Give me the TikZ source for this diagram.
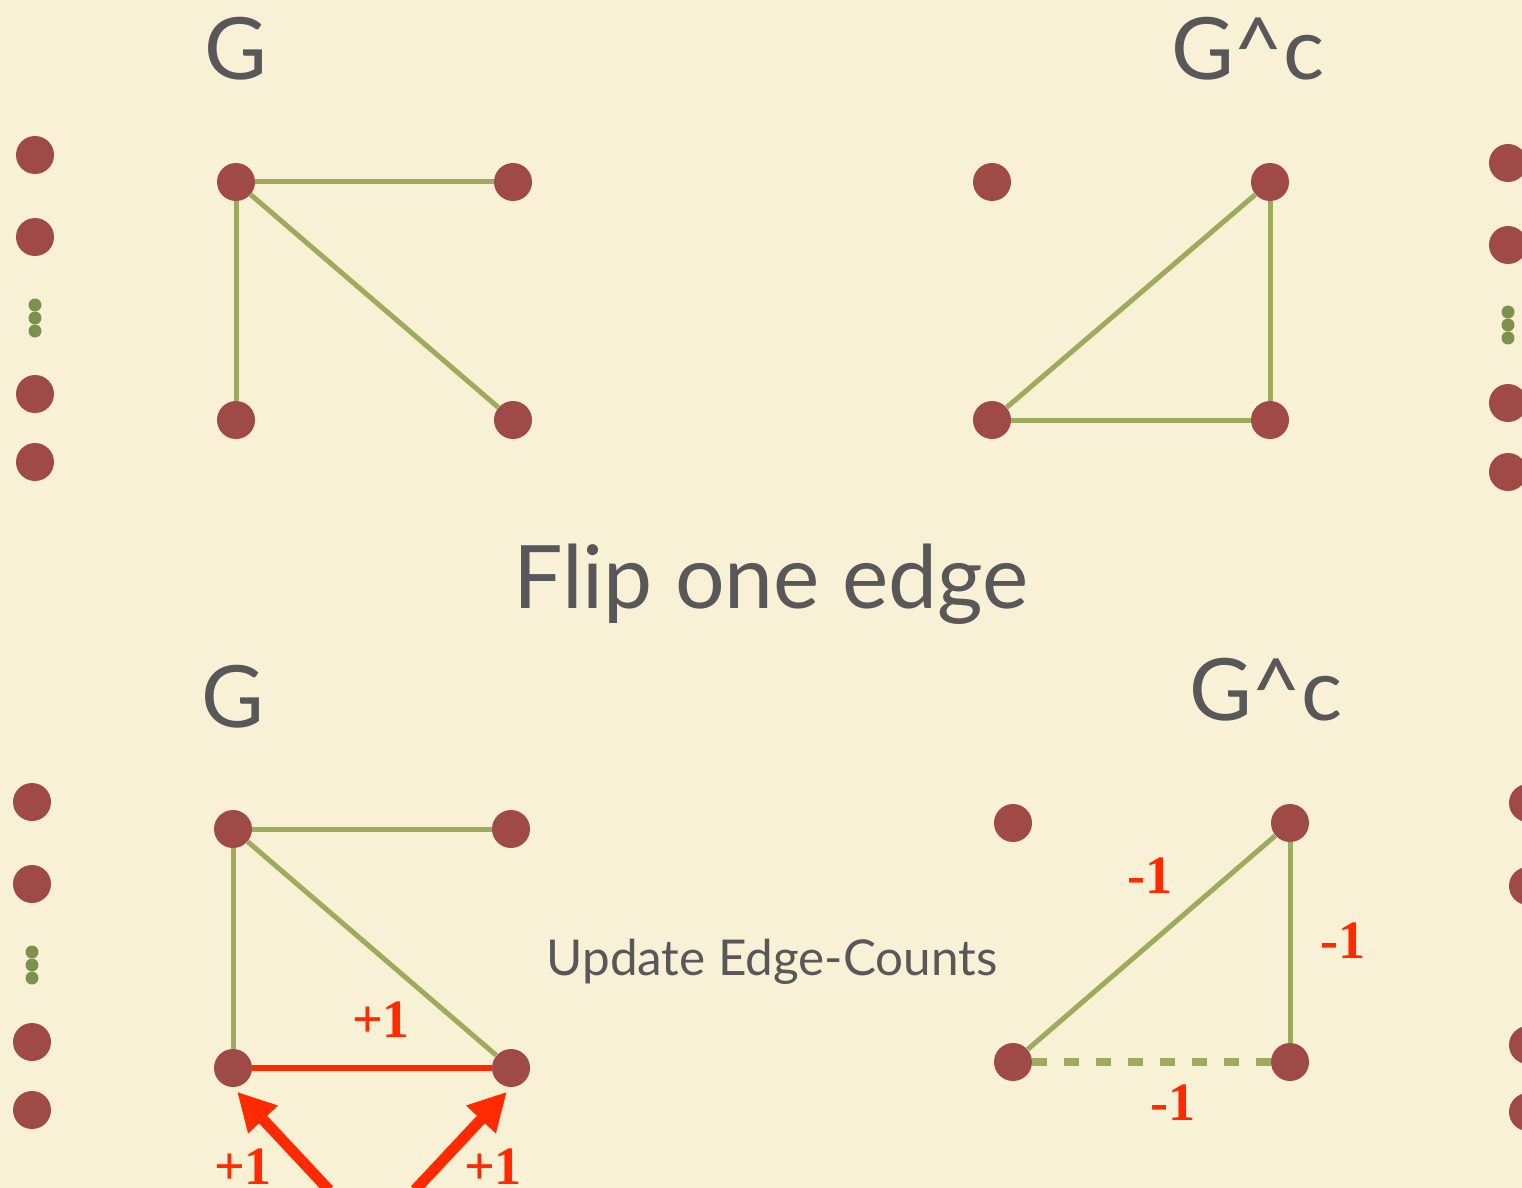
\documentclass[tikz,border=0pt]{standalone}
\usepackage{fontspec}
\setmainfont{Liberation Serif}
\newfontfamily\titlefont{Lato}
\usetikzlibrary{arrows.meta}
\definecolor{bgc}{RGB}{249,241,213}
\definecolor{dotc}{RGB}{160,74,72}
\definecolor{edgec}{RGB}{157,172,92}
\definecolor{smallc}{RGB}{125,145,78}
\definecolor{titlec}{RGB}{88,88,90}
\definecolor{redc}{RGB}{255,42,0}
\tikzset{
  vtx/.style={circle,fill=dotc,minimum size=19pt,inner sep=0pt},
  sdot/.style={circle,fill=smallc,minimum size=6.5pt,inner sep=0pt},
  gedge/.style={draw=edgec,line width=2.5pt},
  dedge/.style={draw=edgec,line width=4pt,dash pattern=on 7.5pt off 8.5pt},
  redge/.style={draw=redc,line width=3pt},
  bigtitle/.style={text=titlec,font=\titlefont\fontsize{43}{45}\selectfont,inner sep=0pt,anchor=base},
  midtitle/.style={text=titlec,font=\titlefont\fontsize{43.8}{46}\selectfont,inner sep=0pt,anchor=base},
  smalltitle/.style={text=titlec,font=\titlefont\fontsize{24.7}{27}\selectfont,inner sep=0pt,anchor=base},
  cnt/.style={text=redc,font=\bfseries\fontsize{27}{29}\selectfont,inner sep=0pt,anchor=base},
  redarrow/.style={draw=redc,line width=5.5pt,-{Triangle[length=19pt,width=19pt]},shorten >=3pt}
}
\begin{document}
\begin{tikzpicture}[x=0.5pt,y=-0.5pt]
\fill[bgc] (0,0) rectangle (1522,1188);
\clip (0,0) rectangle (1522,1188);
\useasboundingbox (0,0) rectangle (1522,1188);

% ---------- titles ----------
\node[bigtitle] (tG) at (236,80) {G};
\node[bigtitle] (tGc) at (1248,80) {G\^{}c};
\node[midtitle] (flip) at (771,608) {Flip one edge};
\node[bigtitle] (bG) at (233,727) {G};
\node[bigtitle] (bGc) at (1266,720) {G\^{}c};
\node[smalltitle] (upd) at (772,975) {Update Edge-Counts};

% ---------- side columns (top) ----------
\node[vtx] (l1) at (35,155) {};
\node[vtx] (l2) at (35,237) {};
\node[sdot] (ls1) at (35,305) {};
\node[sdot] (ls2) at (35,318) {};
\node[sdot] (ls3) at (35,331) {};
\node[vtx] (l3) at (35,394) {};
\node[vtx] (l4) at (35,462) {};

\node[vtx] (r1) at (1508,163) {};
\node[vtx] (r2) at (1508,245) {};
\node[sdot] (rs1) at (1508,312) {};
\node[sdot] (rs2) at (1508,325) {};
\node[sdot] (rs3) at (1508,338) {};
\node[vtx] (r3) at (1508,403) {};
\node[vtx] (r4) at (1508,472) {};

% ---------- side columns (bottom) ----------
\node[vtx] (bl1) at (32,802) {};
\node[vtx] (bl2) at (32,884) {};
\node[sdot] (bls1) at (32,952) {};
\node[sdot] (bls2) at (32,965) {};
\node[sdot] (bls3) at (32,978) {};
\node[vtx] (bl3) at (32,1042) {};
\node[vtx] (bl4) at (32,1110) {};

\node[vtx] (br1) at (1528,803) {};
\node[vtx] (br2) at (1528,886) {};
\node[vtx] (br3) at (1528,1045) {};
\node[vtx] (br4) at (1528,1112) {};

% ---------- top G ----------
\node[vtx] (a1) at (236,182) {};
\node[vtx] (a2) at (513,182) {};
\node[vtx] (a3) at (236,420) {};
\node[vtx] (a4) at (513,420) {};
\path[gedge] (a1) -- (a2);
\path[gedge] (a1) -- (a3);
\path[gedge] (a1) -- (a4);

% ---------- top Gc ----------
\node[vtx] (c1) at (992,182) {};
\node[vtx] (c2) at (1270,182) {};
\node[vtx] (c3) at (992,420) {};
\node[vtx] (c4) at (1270,420) {};
\path[gedge] (c3) -- (c2);
\path[gedge] (c2) -- (c4);
\path[gedge] (c3) -- (c4);

% ---------- bottom G ----------
\node[vtx] (d1) at (233,829) {};
\node[vtx] (d2) at (511,829) {};
\node[vtx] (d3) at (233,1068) {};
\node[vtx] (d4) at (511,1068) {};
\path[gedge] (d1) -- (d2);
\path[gedge] (d1) -- (d3);
\path[gedge] (d1) -- (d4);
\path[redge] (d3) -- (d4);
\node[cnt] (p0) at (381,1037) {+1};
\coordinate (s1) at (329,1190);
\coordinate (s2) at (415,1190);
\draw[redarrow] (s1) -- (d3.south);
\draw[redarrow] (s2) -- (d4.south);
\node[cnt] (p1) at (243,1184) {+1};
\node[cnt] (p2) at (493,1184) {+1};

% ---------- bottom Gc ----------
\node[vtx] (e1) at (1013,823) {};
\node[vtx] (e2) at (1290,823) {};
\node[vtx] (e3) at (1013,1062) {};
\node[vtx] (e4) at (1290,1062) {};
\path[gedge] (e3) -- (e2);
\path[gedge] (e2) -- (e4);
\path[dedge] (e3) -- (e4);
\node[cnt] (m1) at (1150,893) {-1};
\node[cnt] (m2) at (1343,958) {-1};
\node[cnt] (m3) at (1173,1120) {-1};
\end{tikzpicture}
\end{document}
